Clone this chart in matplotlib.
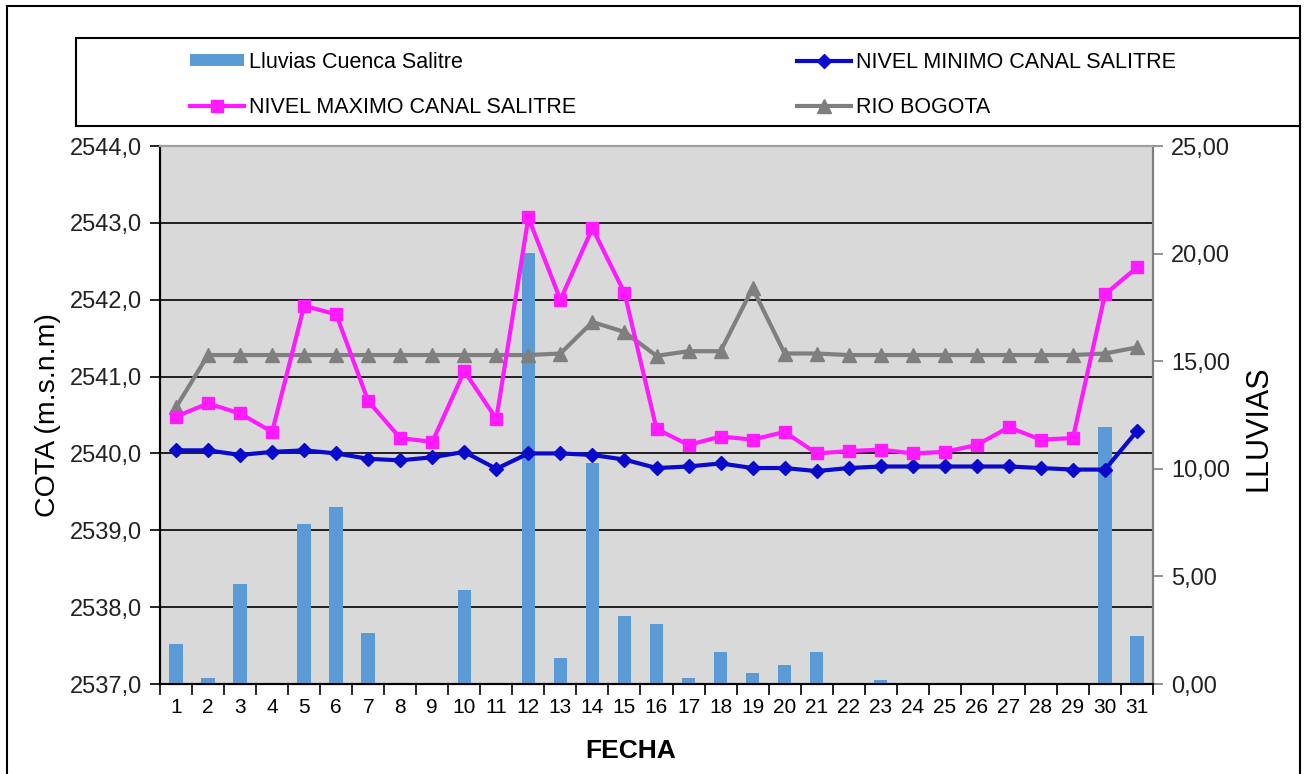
import numpy as np
import matplotlib
matplotlib.use("Agg")
import matplotlib.pyplot as plt
from matplotlib.ticker import FixedLocator, FuncFormatter
from matplotlib.lines import Line2D
from matplotlib.patches import Rectangle, Patch

plt.rcParams['font.family'] = ['Liberation Sans', 'DejaVu Sans']

dias = list(range(1, 32))
lluvias = [1.86, 0.28, 4.65, 0.0, 7.43, 8.23, 2.36, 0.0, 0.05, 4.36,
           0.0, 20.05, 1.23, 10.26, 3.16, 2.78, 0.28, 1.50, 0.50, 0.86,
           1.50, 0.0, 0.20, 0.0, 0.0, 0.0, 0.0, 0.0, 0.0, 11.95, 2.22]
nivel_min = [2540.04, 2540.04, 2539.98, 2540.02, 2540.04, 2540.00, 2539.93, 2539.91, 2539.95, 2540.02,
             2539.80, 2540.00, 2540.00, 2539.98, 2539.92, 2539.81, 2539.83, 2539.87, 2539.81, 2539.81,
             2539.77, 2539.81, 2539.83, 2539.83, 2539.83, 2539.83, 2539.83, 2539.81, 2539.79, 2539.79,
             2540.29]
nivel_max = [2540.48, 2540.65, 2540.52, 2540.28, 2541.92, 2541.81, 2540.68, 2540.20, 2540.15, 2541.07,
             2540.45, 2543.07, 2542.00, 2542.93, 2542.09, 2540.32, 2540.11, 2540.22, 2540.18, 2540.28,
             2540.00, 2540.03, 2540.05, 2540.00, 2540.02, 2540.11, 2540.34, 2540.18, 2540.20, 2542.07,
             2542.42]
rio_bogota = [2540.60, 2541.28, 2541.28, 2541.28, 2541.28, 2541.28, 2541.28, 2541.28, 2541.28, 2541.28,
              2541.28, 2541.28, 2541.30, 2541.71, 2541.58, 2541.27, 2541.33, 2541.33, 2542.15, 2541.30,
              2541.30, 2541.28, 2541.28, 2541.28, 2541.28, 2541.28, 2541.28, 2541.28, 2541.28, 2541.30,
              2541.38]

C_BAR = '#5B9BD5'
C_MIN = '#0A0ACC'
C_MAX = '#FF1AFF'
C_RIO = '#7F7F7F'
BG = '#D9D9D9'

W, H = 1307, 774
fig = plt.figure(figsize=(W / 100, H / 100), dpi=100)
fig.patch.set_facecolor('white')

# plot area in pixels: x 160..1153, y 146..684
x0, x1, y0, y1 = 160, 1153, 146, 684
ax = fig.add_axes([x0 / W, 1 - y1 / H, (x1 - x0) / W, (y1 - y0) / H])
ax2 = ax.twinx()

# rain bars on the secondary axis, drawn underneath the level lines
ax.set_zorder(2)
ax2.set_zorder(1)
ax.patch.set_visible(False)
ax2.patch.set_visible(True)
ax2.patch.set_facecolor(BG)

ax2.bar(dias, lluvias, width=0.42, color=C_BAR, zorder=3)
ax2.set_ylim(0, 25)
ax2.set_yticks(np.arange(0, 26, 5))
ax2.yaxis.set_major_formatter(FuncFormatter(lambda v, p: f"{v:.2f}".replace('.', ',')))
# grid lines follow the left-axis divisions (7 steps)
ax2.yaxis.set_minor_locator(FixedLocator(np.linspace(0, 25, 8)[1:-1]))
ax2.grid(which='minor', axis='y', color='black', lw=1.2, zorder=1)
ax2.tick_params(axis='y', which='minor', length=0)
ax2.tick_params(axis='y', which='major', labelsize=17, length=7, width=1.2,
                color='#808080', direction='out', pad=6, labelcolor='#222222')
ax2.set_ylabel('LLUVIAS', fontsize=22)
ax2.yaxis.set_label_coords(1.091, 0.476)

ax.plot(dias, rio_bogota, color=C_RIO, lw=3, marker='^', ms=9.5, zorder=3)
ax.plot(dias, nivel_min, color=C_MIN, lw=3, marker='D', ms=7, zorder=4)
ax.plot(dias, nivel_max, color=C_MAX, lw=3, marker='s', ms=9, zorder=5)
ax.set_ylim(2537, 2544)
ax.set_yticks(np.arange(2537, 2545, 1))
ax.yaxis.set_major_formatter(FuncFormatter(lambda v, p: f"{v:.1f}".replace('.', ',')))
ax.tick_params(axis='y', labelsize=17, length=7, width=1.2, direction='out', pad=6,
               labelcolor='#222222')
ax.set_ylabel('COTA (m.s.n.m)', fontsize=20.5)
ax.yaxis.set_label_coords(-0.100, 0.5)

ax.set_xlim(0.5, 31.5)
ax.set_xticks(dias)
ax.set_xticklabels([str(d) for d in dias])
ax.xaxis.set_minor_locator(FixedLocator(np.arange(0.5, 32, 1)))
ax.tick_params(axis='x', which='major', length=0, labelsize=15, pad=10)
ax.tick_params(axis='x', which='minor', length=8, width=1.2, direction='out')
ax.set_xlabel('FECHA', fontsize=19, fontweight='bold')
ax.xaxis.set_label_coords(0.474, -0.102)

for a in (ax, ax2):
    a.spines['left'].set_color('black')
    a.spines['bottom'].set_color('black')
    a.spines['top'].set_color('#A0A0A0')
    a.spines['right'].set_color('#808080')
    for s in a.spines.values():
        s.set_linewidth(1.5)

# outer chart border (open at the bottom) and legend box
for xs, ys in [([7, 7], [6, H + 5]), ([7, 1300], [6, 6]), ([1300, 1300], [6, H + 5])]:
    fig.add_artist(Line2D([x / W for x in xs], [1 - y / H for y in ys],
                          color='black', lw=1.5, transform=fig.transFigure))
fig.add_artist(Rectangle((76 / W, 1 - 126 / H), (1300 - 76) / W, 88 / H,
                         fill=False, edgecolor='black', lw=1.5, transform=fig.transFigure))

h_bar = Patch(facecolor=C_BAR, edgecolor='none')
h_min = Line2D([], [], color=C_MIN, lw=3, marker='D', ms=7)
h_max = Line2D([], [], color=C_MAX, lw=3, marker='s', ms=9)
h_rio = Line2D([], [], color=C_RIO, lw=3, marker='^', ms=9.5)

leg_kw = dict(loc='upper left', frameon=False, fontsize=15.5, handlelength=2.5,
              handleheight=0.5, handletextpad=0.25, labelspacing=1.1,
              borderpad=0, borderaxespad=0)
fig.legend([h_bar, h_max], ['Lluvias Cuenca Salitre', 'NIVEL MAXIMO CANAL SALITRE'],
           bbox_to_anchor=(190 / W, 1 - 52 / H), **leg_kw)
fig.legend([h_min, h_rio], ['NIVEL MINIMO CANAL SALITRE', 'RIO BOGOTA'],
           bbox_to_anchor=(797 / W, 1 - 52 / H), **leg_kw)

fig.savefig('out.png', dpi=100)
